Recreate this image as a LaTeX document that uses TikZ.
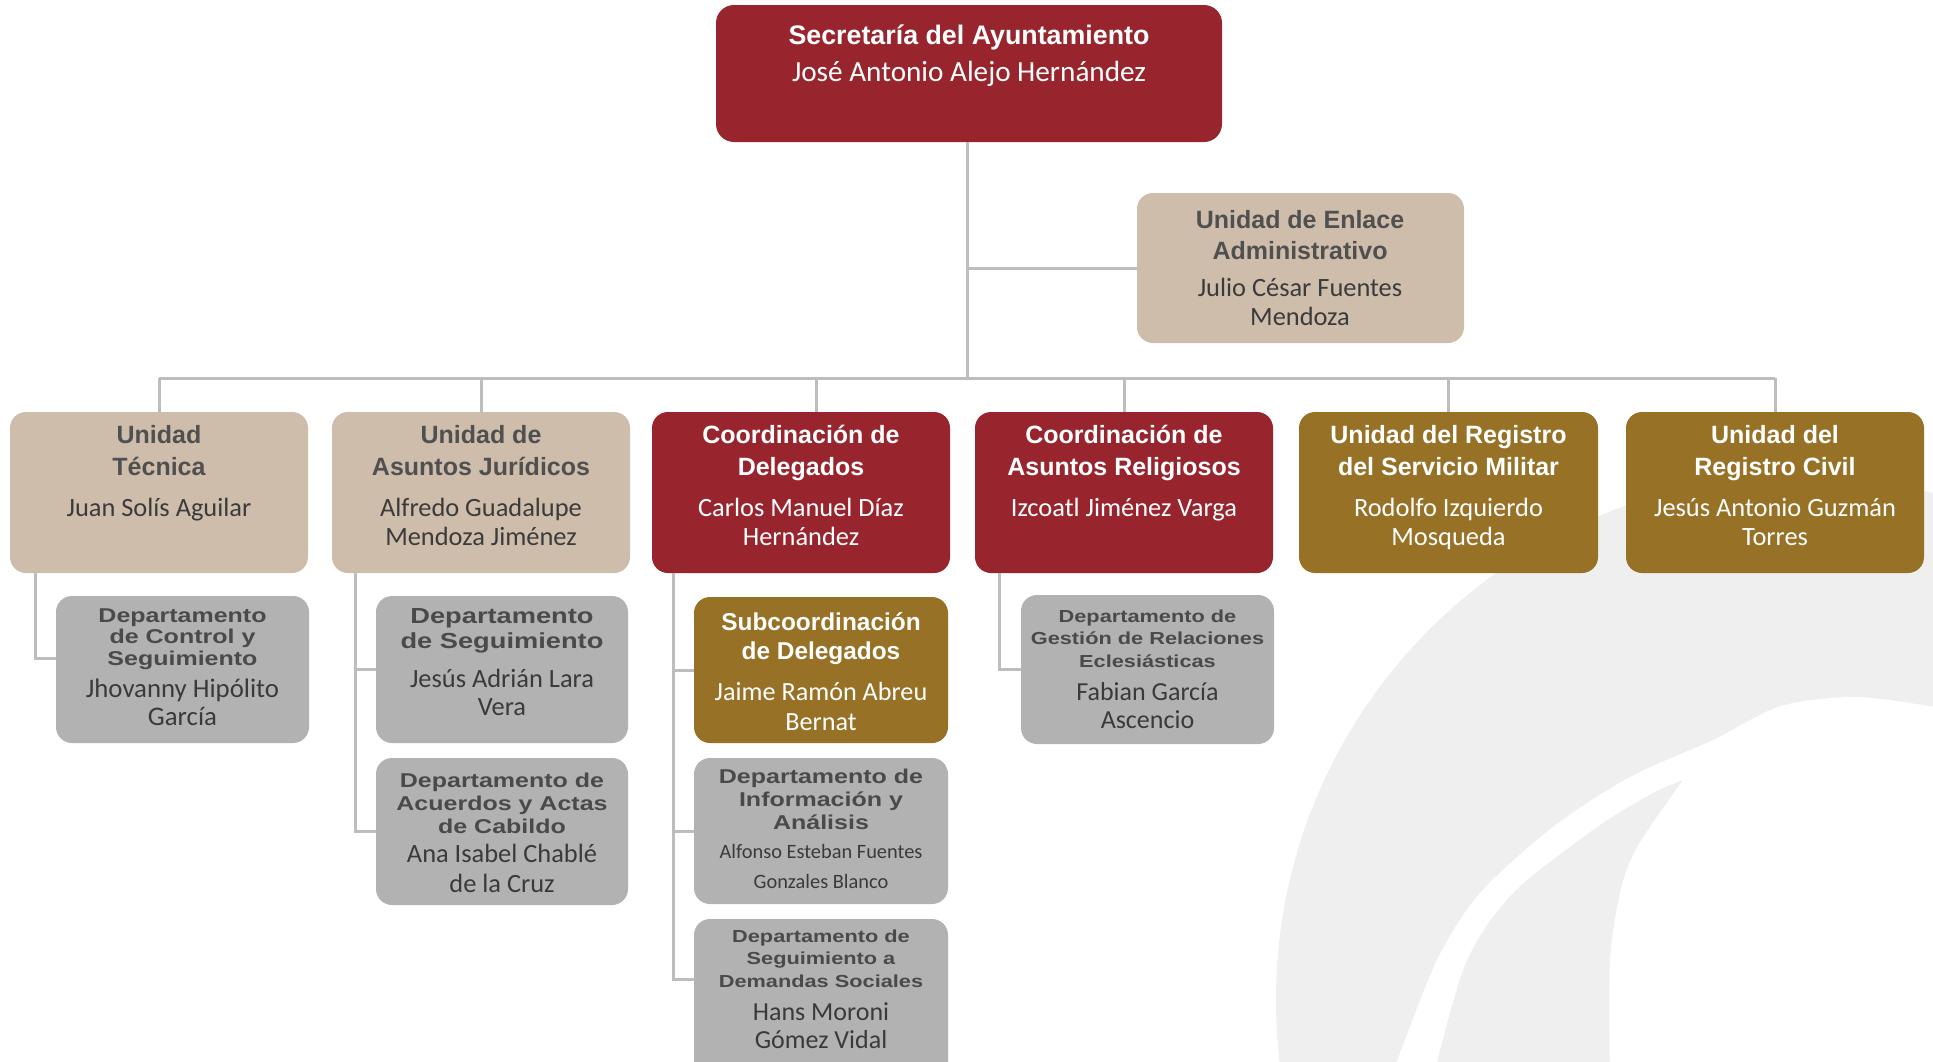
\documentclass[tikz,border=0pt]{standalone}
\usepackage{fontspec}
\setmainfont{Carlito}
\newfontfamily\tfont{Liberation Sans}
\newfontfamily\tfontw[FakeStretch=1.25]{Liberation Sans}
\newfontfamily\nfont{Carlito}
\usetikzlibrary{calc}
\definecolor{cred}{HTML}{98252E}
\definecolor{ctan}{HTML}{CFBDAB}
\definecolor{cgold}{HTML}{977126}
\definecolor{cgray}{HTML}{B2B2B2}
\definecolor{cline}{HTML}{BDBDBD}
\definecolor{cwm}{HTML}{EFEFEF}
\definecolor{ttan}{HTML}{505050}
\definecolor{ntan}{HTML}{3B3B3B}
\definecolor{tgray}{HTML}{4A4A4A}
\definecolor{ngray}{HTML}{3A3A3A}
\newcommand\TT[2]{\tfont\bfseries\fontsize{#1}{#2}\selectfont}
\newcommand\TW[2]{\tfontw\bfseries\fontsize{#1}{#2}\selectfont}
\newcommand\NN[2]{\nfont\mdseries\fontsize{#1}{#2}\selectfont}
\newcommand\mkbox[7]{\node[box, rounded corners=#7, fill=#2, minimum width={(#5-#3)*0.5pt}, minimum height={(#6-#4)*0.5pt}] (#1) at ({(#3+#5)/2},{(#4+#6)/2}) {};}
\tikzset{
  box/.style={rectangle, inner sep=0pt, outer sep=0pt},
  txt/.style={inner sep=0pt, outer sep=0pt, anchor=base},
  conn/.style={draw=cline, line width=1.5pt},
}
\begin{document}
\begin{tikzpicture}[x=0.5pt, y=-0.5pt]
\useasboundingbox (0,0) rectangle (1933,1061);
\fill[white] (0,0) rectangle (1933,1061);
% watermark
\begin{scope}
\clip (0,0) rectangle (1933,1061);
\fill[cwm] (1800,1000) circle[radius=524];
\fill[white] plot[smooth] coordinates {(1390,1080) (1397,1061) (1437,960) (1480,893) (1553,827) (1630,777) (1713,740) (1781,706) (1858,697) (1940,708)}
  -- (1940,1080) -- (1610,1080)
  -- plot[smooth] coordinates {(1610,1080) (1610,960) (1620,893) (1632,857) (1650,827) (1683,780)}
  -- plot[smooth] coordinates {(1683,780) (1653,793) (1597,827) (1513,893) (1467,960) (1437,1061) (1432,1080)} -- cycle;
\end{scope}
% boxes
\mkbox{top}{cred}{716}{5}{1222}{142}{9pt}
\mkbox{enl}{ctan}{1137}{193}{1464}{343}{8pt}
\mkbox{c1}{ctan}{10}{412}{308}{573}{8pt}
\mkbox{c2}{ctan}{332}{412}{630}{573}{8pt}
\mkbox{c3}{cred}{652}{412}{950}{573}{8pt}
\mkbox{c4}{cred}{975}{412}{1273}{573}{8pt}
\mkbox{c5}{cgold}{1299}{412}{1598}{573}{8pt}
\mkbox{c6}{cgold}{1626}{412}{1924}{573}{8pt}
\mkbox{d1}{cgray}{56}{596}{309}{743}{8pt}
\mkbox{d2}{cgray}{376}{596}{628}{743}{8pt}
\mkbox{d3}{cgray}{376}{758}{628}{905}{8pt}
\mkbox{d4}{cgold}{694}{597}{948}{743}{8pt}
\mkbox{d5}{cgray}{694}{758}{948}{904}{8pt}
\mkbox{d6}{cgray}{694}{919}{948}{1080}{8pt}
\mkbox{d7}{cgray}{1021}{595}{1274}{744}{8pt}
% connectors
\coordinate (bus) at (967,378);
\draw[conn] (top.south -| bus) -- (bus);
\draw[conn] (top.south -| bus) -- (bus |- enl.west) -- (enl.west);
\draw[conn] (c1.north |- bus) -- (c6.north |- bus);
\draw[conn] (c1.north |- bus) -- (c1.north);
\draw[conn] (c2.north |- bus) -- (c2.north);
\coordinate (b3) at (816,378);
\draw[conn] (b3) -- (b3 |- c3.north);
\draw[conn] (c4.north |- bus) -- (c4.north);
\draw[conn] (c5.north |- bus) -- (c5.north);
\draw[conn] (c6.north |- bus) -- (c6.north);
\coordinate (v1) at ($(c1.south west)+(25,0)$);
\coordinate (v2) at ($(c2.south west)+(23,0)$);
\coordinate (v3) at ($(c3.south west)+(21,0)$);
\coordinate (v4) at ($(c4.south west)+(24,0)$);
\draw[conn] (v1) |- ($(d1.north west)+(0,62)$);
\draw[conn] (v2) |- (d3.west);
\draw[conn] (v2 |- d2.west) -- (d2.west);
\draw[conn] (v3) |- ($(d6.north west)+(0,60)$);
\draw[conn] (v3 |- d4.west) -- (d4.west);
\draw[conn] (v3 |- d5.west) -- (d5.west);
\draw[conn] (v4) |- (d7.west);
% texts
\node[txt, text=white] (topt) at (969,44) {\parbox[t]{240pt}{\centering\TT{13.4}{16}Secretaría del Ayuntamiento\par\vspace{4pt}\NN{14.6}{14.5}José Antonio Alejo Hernández}};
\node[txt, text=ttan] (enlt) at (1300,228) {\parbox[t]{150pt}{\centering\TT{12.5}{15.5}Unidad de Enlace\\Administrativo\par\vspace{4pt}\color{ntan}\NN{13.2}{14.5}Julio César Fuentes\\Mendoza}};
\node[txt, text=ttan] (c1t) at (159,443) {\parbox[t]{145pt}{\centering\TT{12.5}{16}Unidad\\Técnica\par\vspace{6pt}\color{ntan}\NN{13.2}{14.5}Juan Solís Aguilar}};
\node[txt, text=ttan] (c2t) at (481,443) {\parbox[t]{145pt}{\centering\TT{12.5}{16}Unidad de\\Asuntos Jurídicos\par\vspace{6pt}\color{ntan}\NN{13.2}{14.5}Alfredo Guadalupe\\Mendoza Jiménez}};
\node[txt, text=white] (c3t) at (801,443) {\parbox[t]{145pt}{\centering\TT{12.5}{16}Coordinación de\\Delegados\par\vspace{6pt}\NN{13.2}{14.5}Carlos Manuel Díaz\\Hernández}};
\node[txt, text=white] (c4t) at (1124,443) {\parbox[t]{145pt}{\centering\TT{12.5}{16}Coordinación de\\Asuntos Religiosos\par\vspace{6pt}\NN{13.2}{14.5}Izcoatl Jiménez Varga}};
\node[txt, text=white] (c5t) at (1448.5,443) {\parbox[t]{145pt}{\centering\TT{12.5}{16}Unidad del Registro\\del Servicio Militar\par\vspace{6pt}\NN{13.2}{14.5}Rodolfo Izquierdo\\Mosqueda}};
\node[txt, text=white] (c6t) at (1775,443) {\parbox[t]{145pt}{\centering\TT{12.5}{16}Unidad del\\Registro Civil\par\vspace{6pt}\NN{13.2}{14.5}Jesús Antonio Guzmán\\Torres}};
\node[txt, text=tgray] (d1t) at (182.5,622) {\parbox[t]{125pt}{\centering\TW{10}{10.75}Departamento\\de Control y\\Seguimiento\par\vspace{2pt}\color{ngray}\NN{13.4}{14}Jhovanny Hipólito\\García}};
\node[txt, text=tgray] (d2t) at (502,623) {\parbox[t]{125pt}{\centering\TW{10.9}{12.5}Departamento\\de Seguimiento\par\vspace{5.5pt}\color{ngray}\NN{13.2}{14}Jesús Adrián Lara\\Vera}};
\node[txt, text=tgray] (d3t) at (502,787) {\parbox[t]{125pt}{\centering\TW{10}{11.5}Departamento de\\Acuerdos y Actas\\de Cabildo\par\vspace{-0.5pt}\color{ngray}\NN{13.2}{15}Ana Isabel Chablé\\de la Cruz}};
\node[txt, text=white] (d4t) at (821,630) {\parbox[t]{125pt}{\centering\TT{12.2}{14.5}Subcoordinación\\de Delegados\par\vspace{5.5pt}\NN{13.1}{15}Jaime Ramón Abreu\\Bernat}};
\node[txt, text=tgray] (d5t) at (821,783) {\parbox[t]{125pt}{\centering\TW{10}{11.5}Departamento de\\Información y\\Análisis\par\vspace{-0.5pt}\color{ngray}\NN{10.2}{15}Alfonso Esteban Fuentes\\Gonzales Blanco}};
\node[txt, text=tgray] (d6t) at (821,942) {\parbox[t]{125pt}{\centering\TW{8.7}{11.25}Departamento de\\Seguimiento a\\Demandas Sociales\par\vspace{2.5pt}\color{ngray}\NN{13}{14}Hans Moroni\\Gómez Vidal}};
\node[txt, text=tgray] (d7t) at (1147.5,622) {\parbox[t]{125pt}{\centering\TW{8.7}{11.25}Departamento de\\Gestión de Relaciones\\Eclesiásticas\par\vspace{2.5pt}\color{ngray}\NN{13}{14}Fabian García\\Ascencio}};
\end{tikzpicture}
\end{document}
